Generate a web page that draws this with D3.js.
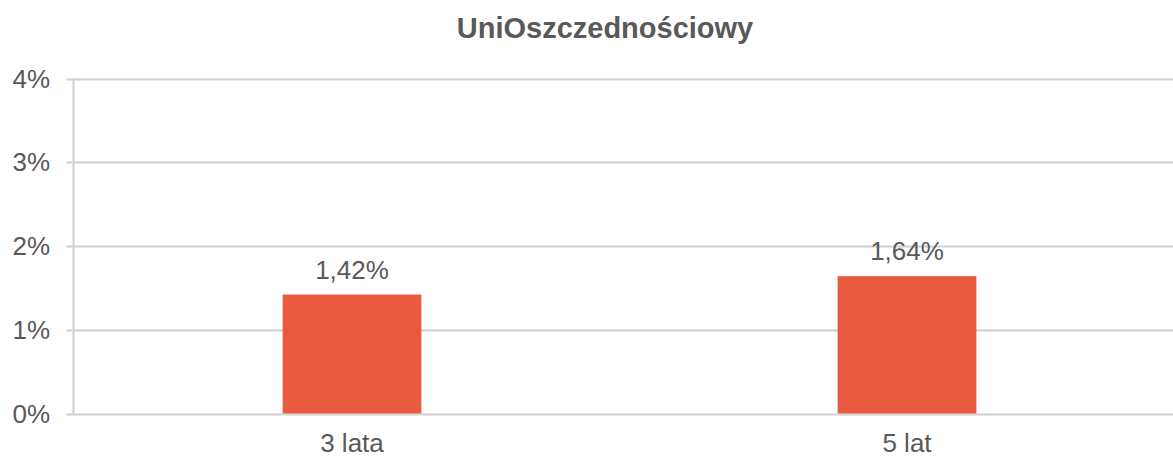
<!DOCTYPE html>
<html>
<head>
<meta charset="utf-8">
<script src="https://cdn.jsdelivr.net/npm/d3@7"></script>
<style>
  body { margin: 0; background: #fff; }
  svg { display: block; font-family: "Liberation Sans", Arial, sans-serif; }
</style>
</head>
<body>
<svg id="chart" width="1173" height="457"></svg>
<script>
// chart data
var categories = ['3 lata', '5 lat'];
var values = [1.42, 1.64];
var valueLabels = ['1,42%', '1,64%'];
var yTicks = [0, 1, 2, 3, 4];
var title = 'UniOszczednościowy';

var svg = d3.select('#chart');
var margin = { top: 78.5, bottom: 43.5, left: 74.5 };
var width = 1173, height = 457;

var x = d3.scaleBand()
    .domain(categories)
    .range([margin.left, margin.left + 1110])
    .padding(0);

var y = d3.scaleLinear()
    .domain([0, 4])
    .range([height - margin.bottom, margin.top]);

var grey = '#595959';

// title
svg.append('text')
    .attr('x', 605)
    .attr('y', 38)
    .attr('text-anchor', 'middle')
    .attr('font-size', 29)
    .attr('font-weight', 'bold')
    .attr('fill', grey)
    .text(title);

// horizontal gridlines with tick marks
svg.append('g').selectAll('line')
    .data(yTicks)
    .enter().append('line')
    .attr('x1', margin.left - 8)
    .attr('x2', width)
    .attr('y1', function (d) { return Math.round(y(d)) + 0.5; })
    .attr('y2', function (d) { return Math.round(y(d)) + 0.5; })
    .attr('stroke', '#d0d0d0')
    .attr('stroke-width', 2);

// y axis line
svg.append('line')
    .attr('x1', margin.left - 1)
    .attr('x2', margin.left - 1)
    .attr('y1', y(4))
    .attr('y2', y(0))
    .attr('stroke', '#d0d0d0')
    .attr('stroke-width', 2);

// y tick labels
svg.append('g').selectAll('text')
    .data(yTicks)
    .enter().append('text')
    .attr('x', 50)
    .attr('y', function (d) { return y(d) + 9; })
    .attr('text-anchor', 'end')
    .attr('font-size', 26)
    .attr('fill', grey)
    .text(function (d) { return d + '%'; });

// bars
var barW = x.bandwidth() * 0.25;
svg.append('g').selectAll('rect')
    .data(values)
    .enter().append('rect')
    .attr('x', function (d, i) { return x(categories[i]) + (x.bandwidth() - barW) / 2; })
    .attr('width', barW)
    .attr('y', function (d) { return y(d); })
    .attr('height', function (d) { return y(0) - y(d); })
    .attr('fill', '#E8593E');

// value labels
svg.append('g').selectAll('text')
    .data(values)
    .enter().append('text')
    .attr('x', function (d, i) { return x(categories[i]) + x.bandwidth() / 2; })
    .attr('y', function (d) { return y(d) - 16; })
    .attr('text-anchor', 'middle')
    .attr('font-size', 26)
    .attr('fill', grey)
    .text(function (d, i) { return valueLabels[i]; });

// category labels
svg.append('g').selectAll('text')
    .data(categories)
    .enter().append('text')
    .attr('x', function (d) { return x(d) + x.bandwidth() / 2; })
    .attr('y', 452)
    .attr('text-anchor', 'middle')
    .attr('font-size', 26)
    .attr('fill', grey)
    .text(function (d) { return d; });
</script>
</body>
</html>
